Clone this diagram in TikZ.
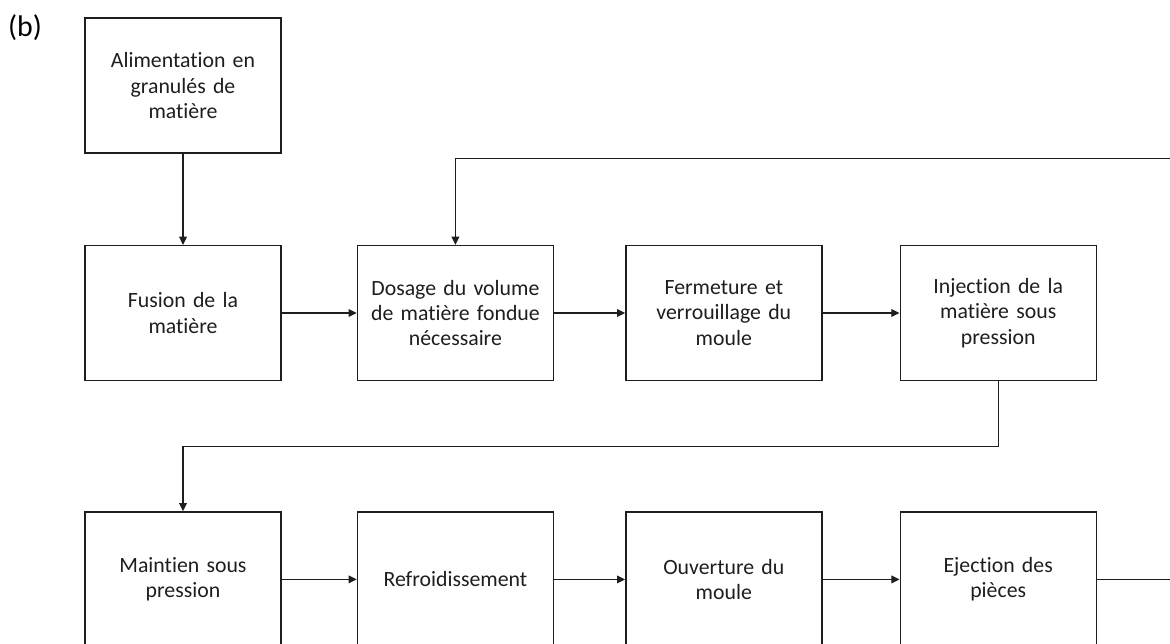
\documentclass[tikz,border=0pt]{standalone}
\usepackage{fontspec}
\setmainfont[Ligatures=NoCommon]{Carlito}
\usetikzlibrary{arrows.meta,positioning,calc}
\definecolor{flowdark}{RGB}{30,30,30}
\tikzset{
  flowarrow/.style={-{Triangle[length=4.6pt,width=4.4pt]}, line width=0.6pt, draw=flowdark},
  flowstep/.style={
    draw=flowdark,
    line width=0.8pt,
    align=center,
    text=flowdark,
    font=\fontsize{12.4}{14.4}\selectfont,
    minimum width=3.92cm,
    minimum height=2.7cm,
    text width=3.7cm,
    inner sep=2pt
  }
}
\begin{document}
\begin{tikzpicture}[node distance=1.5cm]
  \useasboundingbox (0,0) rectangle (23.4,-12.86);
  \node[font=\fontsize{17}{19}\selectfont] (tag) at (0.5,-0.56) {(b)};

  % second row
  \node[flowstep] (fusion) at (3.66,-6.26) {Fusion de la\\matière};
  \node[flowstep, above=1.82cm of fusion] (alim) {Alimentation en\\granulés de\\matière};
  \node[flowstep, right=1.5cm of fusion] (dosage) {Dosage du volume\\de matière fondue\\nécessaire};
  \node[flowstep, right=1.42cm of dosage] (fermeture) {Fermeture et\\verrouillage du\\moule};
  \node[flowstep, right=1.54cm of fermeture] (injection) {Injection de la\\matière sous\\pression};

  % third row
  \node[flowstep, below=2.6cm of fusion] (maintien) {Maintien sous\\pression};
  \node[flowstep, right=1.5cm of maintien] (refroid) {Refroidissement};
  \node[flowstep, right=1.42cm of refroid] (ouverture) {Ouverture du\\moule};
  \node[flowstep, right=1.54cm of ouverture] (ejection) {Ejection des\\pièces};

  \draw[flowarrow] (alim) -- (fusion);
  \draw[flowarrow] (fusion) -- (dosage);
  \draw[flowarrow] (dosage) -- (fermeture);
  \draw[flowarrow] (fermeture) -- (injection);
  \draw[flowarrow] (injection.south) -- ++(0,-1.3) -| (maintien.north);
  \draw[flowarrow] (maintien) -- (refroid);
  \draw[flowarrow] (refroid) -- (ouverture);
  \draw[flowarrow] (ouverture) -- (ejection);
  \draw[flowarrow] (ejection.east) -- ++(1.5,0) |- ($(dosage.north)+(0,1.72)$) -- (dosage.north);
\end{tikzpicture}
\end{document}
